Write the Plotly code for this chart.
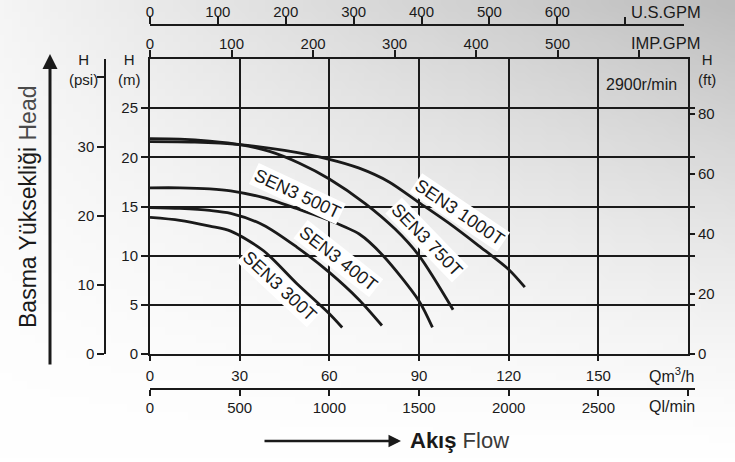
import zlib, struct, base64
import plotly.graph_objects as go

# ---------------- data ----------------
flow_300T = [0, 10, 20, 27, 38, 49, 60, 64.3]
head_300T = [13.9, 13.6, 13.0, 12.5, 10.5, 7.2, 4.1, 2.7]

flow_400T = [0, 10, 20, 27, 38, 49, 60, 70, 77.6]
head_400T = [14.9, 14.8, 14.6, 14.3, 13.1, 10.9, 8.3, 5.5, 2.9]

flow_500T = [0, 10, 20, 27, 38, 49, 60, 70, 78, 90, 94.5]
head_500T = [16.9, 16.9, 16.8, 16.6, 15.9, 14.8, 13.6, 12.2, 10.0, 5.4, 2.7]

flow_750T = [0, 10, 20, 30, 40, 50, 60, 72, 82, 90, 101.4]
head_750T = [21.9, 21.85, 21.65, 21.3, 20.6, 19.4, 17.8, 15.3, 12.7, 10.0, 4.5]

flow_1000T = [0, 15, 30, 45, 60, 70, 80, 90, 100, 110, 120, 125.4]
head_1000T = [21.6, 21.55, 21.3, 20.7, 19.8, 18.9, 17.5, 15.4, 13.3, 11.0, 8.6, 6.8]

series_names = ["SEN3 300T", "SEN3 400T", "SEN3 500T", "SEN3 750T", "SEN3 1000T"]
series_flow = [flow_300T, flow_400T, flow_500T, flow_750T, flow_1000T]
series_head = [head_300T, head_400T, head_500T, head_750T, head_1000T]

# label anchor (flow, head) and angle for each series label
label_flow = [43.3, 63.2, 49.5, 92.6, 103.4]
label_head = [6.9, 9.7, 16.3, 11.55, 14.4]
label_angle = [43, 38, 25, 46, 34]

q_m3h_ticks = [0, 30, 60, 90, 120, 150]
q_lmin_ticks = [0, 500, 1000, 1500, 2000, 2500, 3000]
imp_gpm_ticks = [0, 100, 200, 300, 400, 500, 600]
us_gpm_ticks = [0, 100, 200, 300, 400, 500, 600, 700]
h_m_ticks = [0, 5, 10, 15, 20, 25]
h_psi_ticks = [0, 10, 20, 30, 40]
h_ft_ticks = [0, 20, 40, 60, 80]

Q_MAX = 180.0        # m3/h at right edge of the grid
H_MAX = 30.0         # m at top of the grid
M3H_PER_IMPGPM = 0.272765
M3H_PER_USGPM = 0.227125
M_PER_FT = 0.3048
M_PER_PSI = 0.70307

# ---------------- geometry ----------------
W, H = 735, 462
PX_L, PX_R, PX_T, PX_B = 150, 688, 59, 354
def px(xp): return xp / W
def py(yp): return 1 - yp / H

INK = "#1a1a1a"
REG = "Liberation Sans, Arial, sans-serif"

# ---------------- background gradient png ----------------
def make_png(w, h, fn):
    raw = bytearray()
    for j in range(h):
        raw.append(0)
        for i in range(w):
            raw.append(max(0, min(255, int(fn(i / (w - 1), j / (h - 1))))))
    def chunk(t, d):
        return struct.pack(">I", len(d)) + t + d + struct.pack(">I", zlib.crc32(t + d) & 0xffffffff)
    png = (b"\x89PNG\r\n\x1a\n"
           + chunk(b"IHDR", struct.pack(">IIBBBBB", w, h, 8, 0, 0, 0, 0))
           + chunk(b"IDAT", zlib.compress(bytes(raw)))
           + chunk(b"IEND", b""))
    return "data:image/png;base64," + base64.b64encode(png).decode()

bg_src = make_png(96, 60, lambda x, y: 255 - 66 * (1 - y) ** 1.4 * (0.15 + 0.85 * x))

fig = go.Figure()

for name, fx, hy in zip(series_names, series_flow, series_head):
    fig.add_trace(go.Scatter(x=fx, y=hy, mode="lines", name=name,
                             line=dict(color=INK, width=2.8, shape="spline", smoothing=0.8),
                             hoverinfo="skip", showlegend=False))

# invisible helper traces so that secondary axes are rendered
for xa, ya in [("x2", "y"), ("x3", "y"), ("x4", "y"), ("x", "y2"), ("x", "y3")]:
    fig.add_trace(go.Scatter(x=[0], y=[0], xaxis=xa, yaxis=ya, mode="markers",
                             marker=dict(opacity=0), hoverinfo="skip", showlegend=False))

xdom = [px(PX_L), px(PX_R)]
ydom = [py(PX_B), py(PX_T)]
tickfont = dict(family=REG, size=15, color=INK)
common = dict(automargin=False, fixedrange=True, zeroline=False, tickfont=tickfont,
              tickcolor=INK, tickwidth=1.5)

fig.update_layout(
    width=W, height=H, autosize=False,
    margin=dict(l=0, r=0, t=0, b=0, pad=0, autoexpand=False),
    paper_bgcolor="white", plot_bgcolor="rgba(0,0,0,0)",
    images=[dict(source=bg_src, xref="paper", yref="paper", x=0, y=1, sizex=1, sizey=1,
                 sizing="stretch", layer="below", xanchor="left", yanchor="top")],
    xaxis=dict(domain=xdom, range=[0, Q_MAX], tickvals=q_m3h_ticks,
               ticktext=[str(v) for v in q_m3h_ticks],
               showgrid=True, gridcolor=INK, gridwidth=1.8,
               showline=True, linecolor=INK, linewidth=2, mirror=True,
               ticks="outside", ticklen=5, ticklabelstandoff=2, **common),
    yaxis=dict(domain=ydom, range=[0, H_MAX], tickvals=h_m_ticks,
               showgrid=True, gridcolor=INK, gridwidth=1.8,
               showline=True, linecolor=INK, linewidth=2, mirror=True,
               ticks="outside", ticklen=7, **common),
    # Q l/min axis below
    xaxis2=dict(domain=[px(PX_L), px(695)], anchor="free", position=py(389),
                range=[0, 3000 * (695 - PX_L) / (PX_R - PX_L)],
                tickvals=q_lmin_ticks,
                ticktext=[str(v) for v in q_lmin_ticks[:-1]] + [""],
                showgrid=False, showline=True, linecolor=INK, linewidth=2,
                ticks="outside", ticklen=6, ticklabelstandoff=-1, **common),
    # IMP.GPM axis on top border
    xaxis3=dict(overlaying="x", side="top", anchor="y",
                range=[0, Q_MAX / M3H_PER_IMPGPM], tickvals=imp_gpm_ticks,
                ticktext=[str(v) for v in imp_gpm_ticks[:-1]] + [""],
                showgrid=False, showline=False,
                ticks="outside", ticklen=8, ticklabelstandoff=-5, **common),
    # U.S.GPM axis at very top
    xaxis4=dict(domain=[px(PX_L), px(684)], anchor="free", position=py(25), side="top",
                range=[0, (684 - PX_L) / (PX_R - PX_L) * Q_MAX / M3H_PER_USGPM],
                tickvals=us_gpm_ticks,
                ticktext=[str(v) for v in us_gpm_ticks[:-1]] + [""],
                showgrid=False, showline=True, linecolor=INK, linewidth=1.5,
                ticks="outside", ticklen=7, ticklabelstandoff=-6, **common),
    # ft axis right
    yaxis2=dict(overlaying="y", side="right", anchor="x",
                range=[0, H_MAX / M_PER_FT], tickvals=h_ft_ticks,
                showgrid=False, showline=False,
                ticks="outside", ticklen=6, **common),
    # psi axis left
    yaxis3=dict(overlaying="y", side="left", anchor="free", position=px(105),
                range=[0, H_MAX / M_PER_PSI], tickvals=h_psi_ticks,
                ticktext=[str(v) for v in h_psi_ticks[:-1]] + [""],
                showgrid=False, showline=True, linecolor=INK, linewidth=1.5,
                ticks="outside", ticklen=7, **common),
)

ann = []
def txt(text, x, y, size=15, family=REG, xanchor="center", yanchor="middle", angle=0, color=INK):
    ann.append(dict(text=text, x=x, y=y, xref="paper", yref="paper", showarrow=False,
                    xanchor=xanchor, yanchor=yanchor, textangle=angle,
                    font=dict(family=family, size=size, color=color)))

txt("H<br>(psi)", px(83), py(70), size=15)
txt("H<br>(m)", px(129), py(70), size=15)
txt("H<br>(ft)", px(707), py(69), size=15)
txt("2900r/min", px(641), py(84), size=16)
txt("U.S.GPM", px(629), py(12), size=16.5, xanchor="left")
txt("IMP.GPM", px(629), py(43), size=16.5, xanchor="left")
txt("Qm<sup>3</sup>/h", px(696), py(375), size=16, xanchor="right")
txt("Ql/min", px(697), py(406), size=16, xanchor="right")
txt("Basma Yüksekliği <span style='color:#4a4a4a'>Head</span>", px(28), py(207),
    size=23, angle=-90)
txt("<b>Akış</b> <span style='color:#3a3a3a'>Flow</span>", px(408), py(440),
    size=22, xanchor="left")

# arrows
ann.append(dict(x=px(50), y=py(54), xref="paper", yref="paper", text="", showarrow=True,
                ax=0, ay=312, axref="pixel", ayref="pixel", arrowhead=2, arrowsize=1,
                arrowwidth=3, arrowcolor=INK, standoff=0))
ann.append(dict(x=px(401), y=py(441), xref="paper", yref="paper", text="", showarrow=True,
                ax=-138, ay=0, axref="pixel", ayref="pixel", arrowhead=2, arrowsize=1,
                arrowwidth=2.5, arrowcolor=INK, standoff=0))

for name, lx, ly, ang in zip(series_names, label_flow, label_head, label_angle):
    ann.append(dict(text=name, x=lx, y=ly, xref="x", yref="y", showarrow=False,
                    textangle=ang, bgcolor="white", borderpad=1,
                    font=dict(family=REG, size=18, color=INK)))

fig.update_layout(annotations=ann)
fig.write_html("out.html", config={"displayModeBar": False},
               post_script="document.body.style.margin='0';document.body.style.overflow='hidden';")
